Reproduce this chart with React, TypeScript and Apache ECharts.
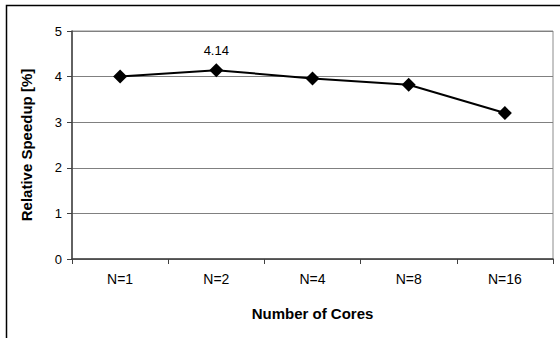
import React, { useEffect, useRef } from "react";
import * as echarts from "echarts";

const categories = ["N=1", "N=2", "N=4", "N=8", "N=16"];
const speedup = [4.0, 4.14, 3.96, 3.82, 3.2];
const labelledIndex = 1;
const yTicks = { min: 0, max: 5, interval: 1 };

const FONT = "'Liberation Sans', Arial, sans-serif";

export default function App() {
  const ref = useRef<HTMLDivElement>(null);

  useEffect(() => {
    document.body.style.margin = "0";
    if (!ref.current) return;
    const chart = echarts.init(ref.current, undefined, { renderer: "svg" });
    chart.setOption({
      animation: false,
      backgroundColor: "#ffffff",
      textStyle: { fontFamily: FONT },
      graphic: [
        {
          type: "rect",
          shape: { x: 6.5, y: 5.5, width: 700, height: 500 },
          style: { fill: "none", stroke: "#000000", lineWidth: 1.5 },
          silent: true,
          z: -1,
        },
      ],
      grid: {
        left: 72,
        top: 31,
        right: 7,
        bottom: 79,
        show: true,
        borderColor: "#8c8c8c",
        borderWidth: 1,
        backgroundColor: "transparent",
      },
      xAxis: {
        type: "category",
        data: categories,
        boundaryGap: true,
        name: "Number of Cores",
        nameLocation: "middle",
        nameGap: 47,
        nameTextStyle: { fontFamily: FONT, fontSize: 15, fontWeight: "bold", color: "#000" },
        axisLine: { lineStyle: { color: "#404040", width: 1.5 } },
        axisTick: { show: true, inside: false, length: 5, lineStyle: { color: "#404040" } },
        axisLabel: { fontFamily: FONT, fontSize: 14, color: "#000", margin: 13 },
        splitLine: { show: false },
      },
      yAxis: {
        type: "value",
        min: yTicks.min,
        max: yTicks.max,
        interval: yTicks.interval,
        name: "Relative Speedup [%]",
        nameLocation: "middle",
        nameGap: 38,
        nameTextStyle: { fontFamily: FONT, fontSize: 15, fontWeight: "bold", color: "#000" },
        axisLine: { show: true, lineStyle: { color: "#404040", width: 1.5 } },
        axisTick: { show: true, inside: false, length: 5, lineStyle: { color: "#404040" } },
        axisLabel: { fontFamily: FONT, fontSize: 13, color: "#000", margin: 10 },
        splitLine: { show: true, lineStyle: { color: "#808080", width: 1 } },
      },
      series: [
        {
          type: "line",
          data: speedup.map((v, i) => ({
            value: v,
            label: {
              show: i === labelledIndex,
              position: "top",
              distance: 6,
              fontFamily: FONT,
              fontSize: 13,
              color: "#000",
              formatter: (p: any) => p.value.toFixed(2),
            },
          })),
          symbol: "diamond",
          symbolSize: 14,
          lineStyle: { color: "#000", width: 2 },
          itemStyle: { color: "#000" },
        },
      ],
    });
    return () => chart.dispose();
  }, []);

  return <div ref={ref} style={{ width: 560, height: 338 }} />;
}
